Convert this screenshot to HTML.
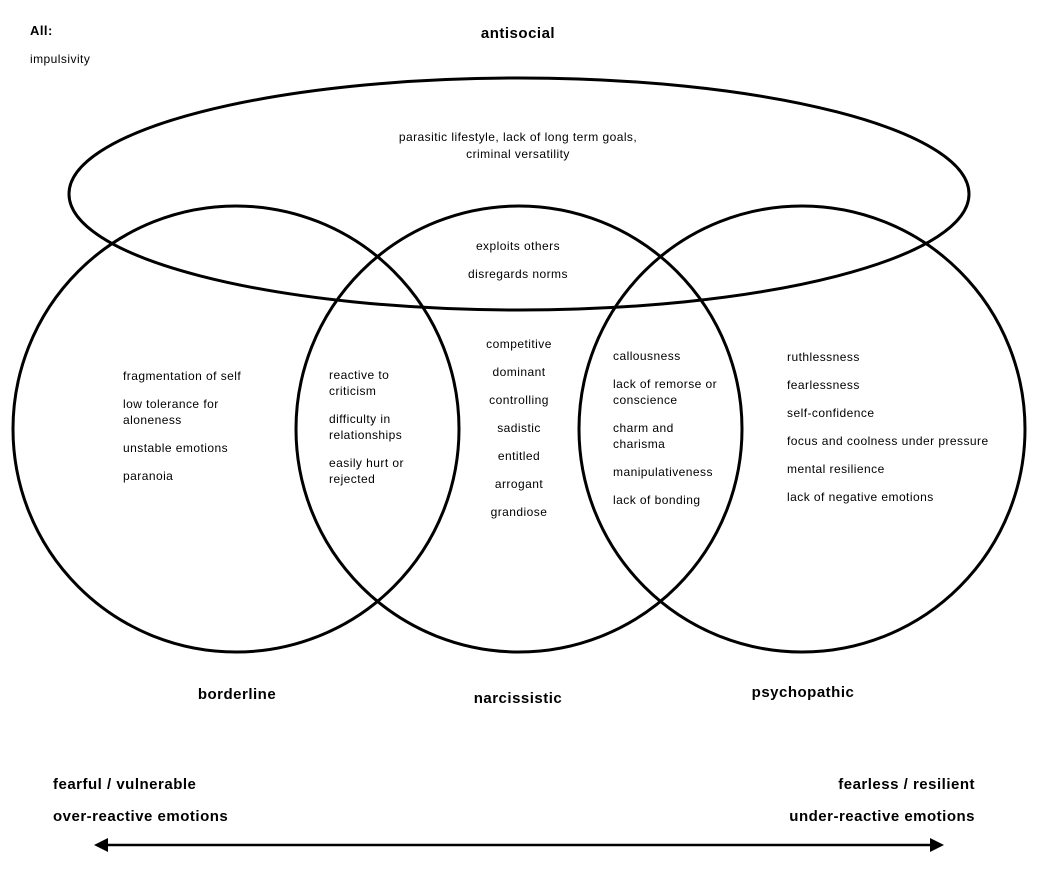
<!DOCTYPE html>
<html><head><meta charset="utf-8"><style>
html,body{margin:0;padding:0;background:#fff;}
svg{display:block;}
text{font-family:"Liberation Sans",Arial,sans-serif;font-size:12px;fill:#000;letter-spacing:0.45px;}
.b{font-weight:bold;font-size:15px;letter-spacing:0.5px;}
</style></head><body>
<svg width="1041" height="877" viewBox="0 0 1041 877" xmlns="http://www.w3.org/2000/svg">
<g fill="none" stroke="#000" stroke-width="3">
<ellipse cx="519" cy="194" rx="450" ry="116"/>
<circle cx="236" cy="429" r="223"/>
<circle cx="519" cy="429" r="223"/>
<circle cx="802" cy="429" r="223"/>
<line x1="105" y1="845" x2="933" y2="845" stroke-width="2.5"/>
</g>
<polygon points="94,845 108,838 108,852" fill="#000"/>
<polygon points="944,845 930,838 930,852" fill="#000"/>
<text x="30" y="35" style="font-weight:bold;font-size:13px">All:</text>
<text x="30" y="63">impulsivity</text>
<text class="b" x="518" y="38" text-anchor="middle">antisocial</text>
<text x="518" y="141" text-anchor="middle">parasitic lifestyle, lack of long term goals,</text>
<text x="518" y="158" text-anchor="middle">criminal versatility</text>
<text x="518" y="250" text-anchor="middle">exploits others</text>
<text x="518" y="278" text-anchor="middle">disregards norms</text>
<g text-anchor="middle">
<text x="519" y="348">competitive</text>
<text x="519" y="376">dominant</text>
<text x="519" y="404">controlling</text>
<text x="519" y="432">sadistic</text>
<text x="519" y="460">entitled</text>
<text x="519" y="488">arrogant</text>
<text x="519" y="516">grandiose</text>
</g>
<text x="123" y="380">fragmentation of self</text>
<text x="123" y="408">low tolerance for</text>
<text x="123" y="424">aloneness</text>
<text x="123" y="452">unstable emotions</text>
<text x="123" y="480">paranoia</text>
<text x="329" y="379">reactive to</text>
<text x="329" y="395">criticism</text>
<text x="329" y="423">difficulty in</text>
<text x="329" y="439">relationships</text>
<text x="329" y="467">easily hurt or</text>
<text x="329" y="483">rejected</text>
<text x="613" y="360">callousness</text>
<text x="613" y="388">lack of remorse or</text>
<text x="613" y="404">conscience</text>
<text x="613" y="432">charm and</text>
<text x="613" y="448">charisma</text>
<text x="613" y="476">manipulativeness</text>
<text x="613" y="504">lack of bonding</text>
<text x="787" y="361">ruthlessness</text>
<text x="787" y="389">fearlessness</text>
<text x="787" y="417">self-confidence</text>
<text x="787" y="445">focus and coolness under pressure</text>
<text x="787" y="473">mental resilience</text>
<text x="787" y="501">lack of negative emotions</text>
<text class="b" x="237" y="699" text-anchor="middle">borderline</text>
<text class="b" x="518" y="703" text-anchor="middle">narcissistic</text>
<text class="b" x="803" y="697" text-anchor="middle">psychopathic</text>
<text class="b" x="53" y="789">fearful / vulnerable</text>
<text class="b" x="53" y="821">over-reactive emotions</text>
<text class="b" x="975" y="789" text-anchor="end">fearless / resilient</text>
<text class="b" x="975" y="821" text-anchor="end">under-reactive emotions</text>
</svg>
</body></html>
